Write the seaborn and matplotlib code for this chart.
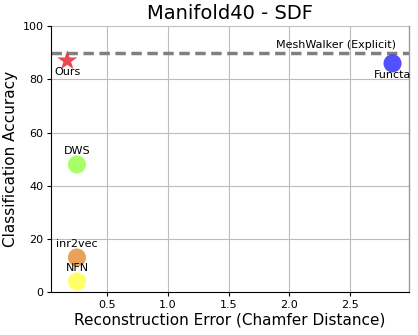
import matplotlib
matplotlib.use("Agg")
import matplotlib.pyplot as plt
import seaborn as sns
import pandas as pd

methods = ["Ours", "Functa", "DWS", "inr2vec", "NFN"]
recon_error = [0.17, 2.85, 0.25, 0.25, 0.25]
accuracy = [87, 86, 48, 13, 4]
colors = ["#e52a33", "#3333ff", "#99ff4d", "#e5923f", "#ffff4d"]
markers = ["*", "o", "o", "o", "o"]
label_pos = ["below", "below", "above", "above", "above"]
meshwalker_acc = 90
meshwalker_label = "MeshWalker (Explicit)"

df = pd.DataFrame({"method": methods, "x": recon_error, "y": accuracy})

sns.set_style("white")
plt.rcParams['font.family'] = ['DejaVu Sans']
plt.rcParams.update({"text.color": "black", "axes.labelcolor": "black",
                     "xtick.color": "black", "ytick.color": "black"})
fig = plt.figure(figsize=(4.18, 3.35), dpi=100)
ax = fig.add_axes([0.122, 0.128, 0.856, 0.794])

for i, row in df.iterrows():
    sns.scatterplot(data=df.iloc[[i]], x="x", y="y", marker=markers[i],
                    s=230 if markers[i] == "*" else 170,
                    color=colors[i], alpha=0.85, edgecolor="none", ax=ax, zorder=3)
    if label_pos[i] == "below":
        ax.annotate(row["method"], (row["x"], row["y"]), xytext=(0, -4.5),
                    textcoords="offset points", ha="center", va="top", fontsize=8)
    else:
        ax.annotate(row["method"], (row["x"], row["y"]), xytext=(0, 6),
                    textcoords="offset points", ha="center", va="bottom", fontsize=8)

ax.axhline(meshwalker_acc, color="gray", linestyle="--", linewidth=2.5, dashes=(3, 1.6), zorder=2)
ax.text(2.88, meshwalker_acc + 1.2, meshwalker_label, ha="right", va="bottom", fontsize=8)

ax.set_ylim(0, 100)
ax.set_xticks([0.5, 1.0, 1.5, 2.0, 2.5])
ax.set_yticks([0, 20, 40, 60, 80, 100])
ax.grid(True, color="#bdbdbd", linewidth=0.8)
ax.set_axisbelow(True)
ax.tick_params(axis="both", labelsize=8, length=3, width=0.8, pad=2.5, left=True, bottom=True)
for s in ["left", "bottom"]:
    ax.spines[s].set_color("black")
    ax.spines[s].set_linewidth(0.8)
ax.spines["top"].set_visible(False)
ax.spines["right"].set_color("#999999")
ax.spines["right"].set_linewidth(1.0)

ax.set_xlabel("Reconstruction Error (Chamfer Distance)", fontsize=11, labelpad=2)
ax.set_ylabel("Classification Accuracy", fontsize=11, labelpad=3)
ax.set_title("Manifold40 - SDF", fontsize=14, pad=5)

fig.savefig("out.png", dpi=100)
